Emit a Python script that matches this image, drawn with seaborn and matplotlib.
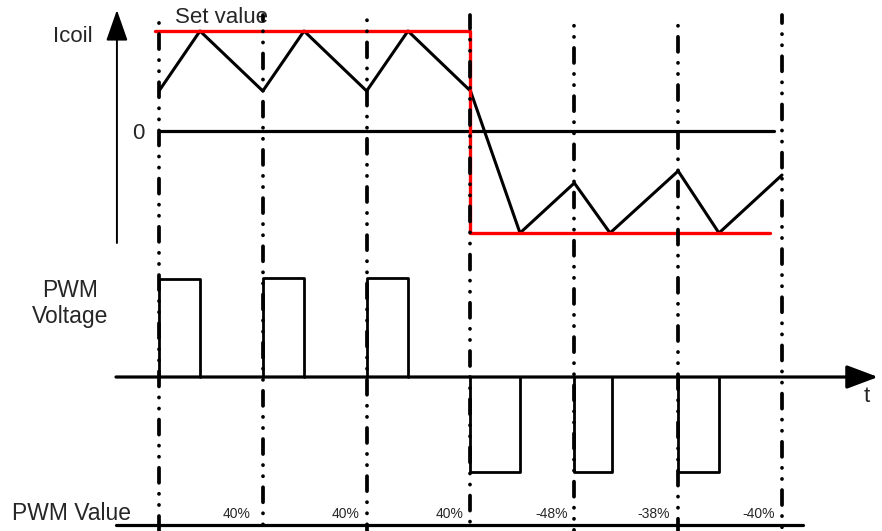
import matplotlib

matplotlib.use('Agg')
import matplotlib.pyplot as plt
import numpy as np
import seaborn as sns

# time in PWM periods, one dash-dot marker per period start
period_starts = [0, 1, 2, 3, 4, 5, 6]

# coil current (set value = +1, zero = 0)
icoil_t = [0, 0.395, 1, 1.397, 2, 2.398, 3, 3.477, 4, 4.344, 5, 5.393, 6]
icoil_val = [0.4, 1.0, 0.4, 1.0, 0.4, 1.0, 0.4, -1.02, -0.52, -1.02, -0.40, -1.02, -0.44]

# set value (red)
setval_t = [-0.04, 3, 3, 5.885]
setval_val = [1.0, 1.0, -1.02, -1.02]

# PWM voltage pulses: start, end, level
pulse_start = [0, 1, 2, 3, 4, 5]
pulse_end = [0.395, 1.397, 2.398, 3.477, 4.363, 5.393]
pulse_level = [1.0, 1.01, 1.01, -0.97, -0.97, -0.97]

# PWM value per period
pwm_labels = ['40%', '40%', '40%', '-48%', '-38%', '-40%']

sns.set_style('white')
plt.rcParams['font.family'] = ['Liberation Sans', 'DejaVu Sans']
plt.rcParams['lines.scale_dashes'] = False

W, H = 882, 531
fig = plt.figure(figsize=(W / 100, H / 100), dpi=100)
xlim = (-1.531, 6.963)

ax_i = fig.add_axes([0, 1 - 250 / H, 1, 250 / H])
ax_v = fig.add_axes([0, 1 - 490 / H, 1, 240 / H])
ax_p = fig.add_axes([0, 0, 1, 41 / H])
ax_bg = fig.add_axes([0, 0, 1, 1], zorder=5)
ax_bg.patch.set_alpha(0)

for ax in (ax_i, ax_v, ax_p, ax_bg):
    ax.set_xlim(*xlim)
    ax.set_axis_off()
ax_i.set_ylim(-1.19, 1.31)
ax_v.set_ylim(-1.153, 1.296)
ax_p.set_ylim(-6, 35)
ax_bg.set_ylim(0, 1)

# dash-dot-dot period markers (round caps, so dots are short segments)
dd = (10.8, 7.9, 0.1, 7.9, 0.1, 7.9)
offsets = [0, 14, 6, 20, 10, 2, 16]
for k, t0 in enumerate(period_starts):
    top = 1 - (12 if k == 0 else 15) / H
    ax_bg.axvline(t0, ymin=0, ymax=top, color='black', lw=2.7,
                  linestyle=(offsets[k], dd), dash_capstyle='round')

# ---- Icoil panel
ax_i.annotate('', xy=(-0.405, 1.21), xytext=(-0.405, -1.12),
              arrowprops=dict(arrowstyle='-|>,head_length=0.8,head_width=0.28',
                              mutation_scale=24, lw=1.4, color='black',
                              shrinkA=0, shrinkB=0))
sns.lineplot(x=[0, 5.92], y=[0, 0], ax=ax_i, color='black', lw=2.3)
sns.lineplot(x=icoil_t, y=icoil_val, ax=ax_i, color='black', lw=2.2,
             sort=False, estimator=None)
sns.lineplot(x=setval_t, y=setval_val, ax=ax_i, color='#ff0000', lw=2.4,
             sort=False, estimator=None)
ax_i.text(-0.83, 0.97, 'Icoil', fontsize=16, ha='center', va='center_baseline')
ax_i.text(-0.2, 0, '0', fontsize=16, ha='center', va='center_baseline')
ax_i.text(0.154, 1.16, 'Set value', fontsize=16, ha='left', va='center_baseline')

# ---- PWM voltage panel
ax_v.annotate('', xy=(6.925, 0), xytext=(-0.414, 0),
              arrowprops=dict(arrowstyle='-|>,head_length=0.8,head_width=0.3',
                              mutation_scale=24, lw=2.3, color='black',
                              shrinkA=0, shrinkB=0))
for s, e, lv in zip(pulse_start, pulse_end, pulse_level):
    sns.lineplot(x=[s, s, e, e], y=[0, lv, lv, 0], ax=ax_v, color='black',
                 lw=2.0, sort=False, estimator=None)
ax_v.text(-0.857, 0.75, 'PWM\nVoltage', fontsize=16.5, ha='center', va='center',
          multialignment='center', linespacing=1.15)
ax_v.text(6.82, -0.204, 't', fontsize=16, ha='center', va='center')

# ---- PWM value row
sns.lineplot(x=[-0.414, 6.2], y=[0, 0], ax=ax_p, color='black', lw=2.3)
label_gap = [0.12, 0.07, 0.07, 0.06, 0.08, 0.07]
for t0, lab, g in zip(period_starts[1:], pwm_labels, label_gap):
    ax_p.text(t0 - g, 11, lab, fontsize=10, ha='right', va='center')
ax_p.text(-1.416, 14, 'PWM Value', fontsize=16.5, ha='left', va='center_baseline')

for ax in (ax_i, ax_v, ax_p):
    leg = ax.get_legend()
    if leg:
        leg.remove()

fig.savefig('out.png', dpi=100)
